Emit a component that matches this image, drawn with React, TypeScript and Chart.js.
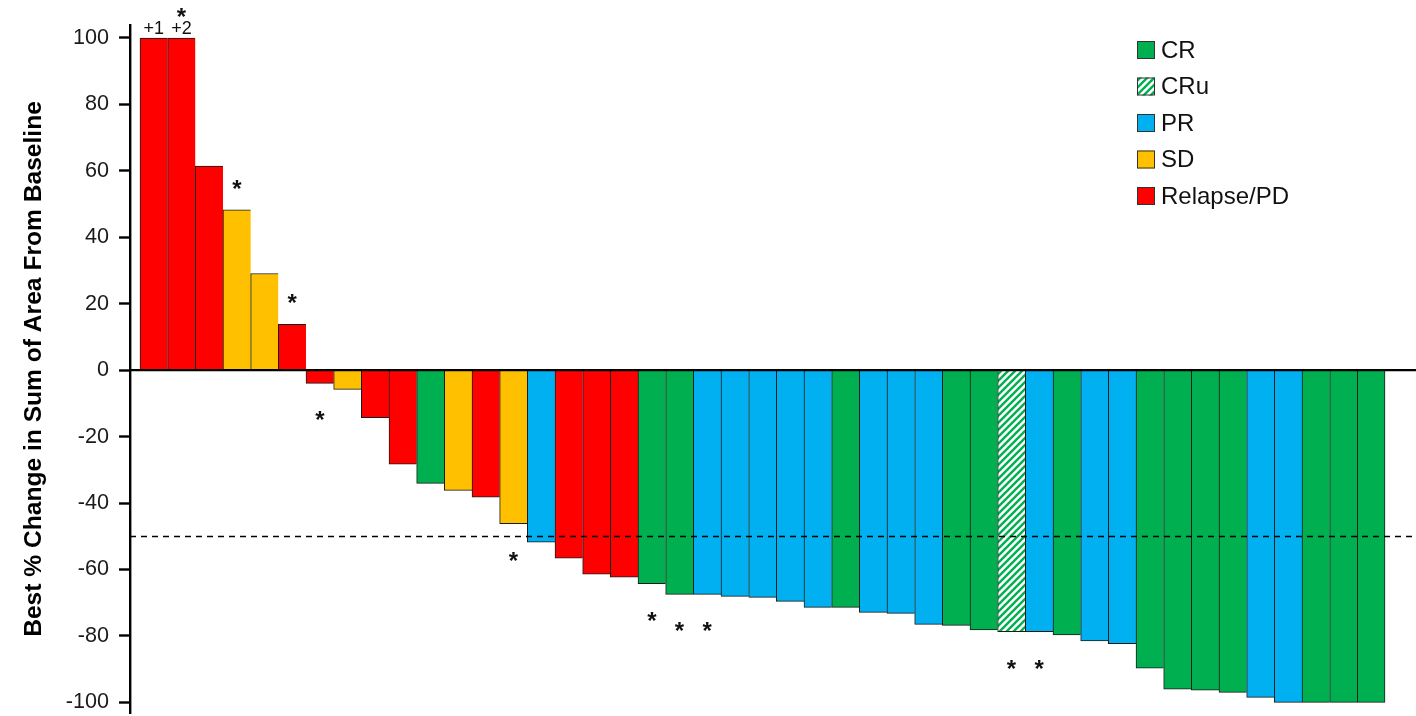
import { useEffect, useRef } from "react";
import { Chart, registerables } from "chart.js";

Chart.register(...registerables);

// ---- data ----
const responses = [
  "PD", "PD", "PD", "SD", "SD", "PD", "PD", "SD", "PD", "PD",
  "CR", "SD", "PD", "SD", "PR", "PD", "PD", "PD", "CR", "CR",
  "PR", "PR", "PR", "PR", "PR", "CR", "PR", "PR", "PR", "CR",
  "CR", "CRu", "PR", "CR", "PR", "PR", "CR", "CR", "CR", "CR",
  "PR", "PR", "CR", "CR", "CR",
];
const changes = [
  100, 100, 61.4, 48.3, 29.1, 13.8, -4.0, -5.8, -14.3, -28.3,
  -34.1, -36.2, -38.2, -46.2, -51.8, -56.6, -61.4, -62.3, -64.3, -67.5,
  -67.5, -68.1, -68.4, -69.6, -71.4, -71.4, -72.9, -73.2, -76.5, -76.8,
  -78.2, -78.7, -78.7, -79.7, -81.5, -82.3, -89.7, -96.0, -96.3, -97.0,
  -98.5, -100, -100, -100, -100,
];
const overflowNotes = ["+1", "+2"]; // bars 1 and 2 exceed 100%
const starredBars = [2, 4, 6, 7, 14, 19, 20, 21, 32, 33];
const yTicks = [100, 80, 60, 40, 20, 0, -20, -40, -60, -80, -100];
const threshold = -50;
const legendKeys = ["CR", "CRu", "PR", "SD", "PD"];
const legendLabels = ["CR", "CRu", "PR", "SD", "Relapse/PD"];
const colors: Record<string, string> = {
  CR: "#00B050",
  PR: "#00B0F0",
  SD: "#FFC000",
  PD: "#FF0000",
};
const yTitle = "Best % Change in Sum of Area From Baseline";

const FONT = "'Liberation Sans', Arial, sans-serif";
const W = 1416;
const H = 716;

function makeStripes(): CanvasPattern | string {
  const s = 7;
  const c = document.createElement("canvas");
  c.width = s;
  c.height = s;
  const g = c.getContext("2d");
  if (!g) return "#fff";
  g.fillStyle = "#ffffff";
  g.fillRect(0, 0, s, s);
  g.strokeStyle = colors.CR;
  g.lineWidth = 2.4;
  g.beginPath();
  g.moveTo(-2, s + 2);
  g.lineTo(s + 2, -2);
  g.moveTo(-2, 2);
  g.lineTo(2, -2);
  g.moveTo(s - 2, s + 2);
  g.lineTo(s + 2, s - 2);
  g.stroke();
  return g.createPattern(c, "repeat") || "#fff";
}

export default function App() {
  const ref = useRef<HTMLCanvasElement | null>(null);

  useEffect(() => {
    if (!ref.current) return;
    const stripes = makeStripes();
    const fillFor = (r: string) => (r === "CRu" ? stripes : colors[r]);
    const points = changes.map((v, i) => ({ x: i + 1, y: v }));
    const last = changes.length - 1;

    const overlay = {
      id: "overlay",
      afterDatasetsDraw(chart: any) {
        const { ctx, chartArea, scales } = chart;
        const y = scales.y;
        const w = chart.width;
        ctx.save();
        // dashed threshold line
        ctx.strokeStyle = "#000";
        ctx.lineWidth = 1.6;
        ctx.setLineDash([6, 5]);
        ctx.beginPath();
        const yd = Math.round(y.getPixelForValue(threshold)) + 0.5;
        ctx.moveTo(chartArea.left, yd);
        ctx.lineTo(w, yd);
        ctx.stroke();
        ctx.setLineDash([]);
        // zero line
        ctx.lineWidth = 2.4;
        const y0 = y.getPixelForValue(0);
        ctx.beginPath();
        ctx.moveTo(chartArea.left - 1, y0);
        ctx.lineTo(w, y0);
        ctx.stroke();

        const meta = chart.getDatasetMeta(0);
        // overflow notes
        ctx.fillStyle = "#111";
        ctx.textAlign = "center";
        ctx.textBaseline = "alphabetic";
        ctx.font = `18px ${FONT}`;
        overflowNotes.forEach((t, i) => {
          const el = meta.data[i];
          ctx.fillText(t, el.x, el.y - 4);
        });
        // asterisks
        ctx.font = `bold 24px ${FONT}`;
        starredBars.forEach((b) => {
          const i = b - 1;
          const el = meta.data[i];
          const v = changes[i];
          const cy = v >= 0 ? el.y - 26 : el.y + 32;
          // glyph center sits ~0.55em above the baseline
          ctx.fillText("*", el.x, cy + 13);
        });

        // legend
        const lx = 1137;
        let ly = 41;
        ctx.textAlign = "left";
        ctx.textBaseline = "middle";
        ctx.font = `24px ${FONT}`;
        legendKeys.forEach((k, i) => {
          ctx.fillStyle = fillFor(k) as any;
          ctx.fillRect(lx, ly, 18, 18);
          ctx.strokeStyle = "#333";
          ctx.lineWidth = 1;
          ctx.strokeRect(lx + 0.5, ly + 0.5, 17, 17);
          ctx.fillStyle = "#111";
          ctx.fillText(legendLabels[i], lx + 24, ly + 10);
          ly += 36.5;
        });
        ctx.restore();
      },
    };

    const chart = new Chart(ref.current, {
      type: "bar",
      data: {
        datasets: [
          {
            data: points as any,
            backgroundColor: responses.map(fillFor) as any,
            borderColor: "#1a1a1a",
            borderWidth: (c: any) => ({
              left: 1,
              right: c.dataIndex === last ? 1 : 0,
              top: 1,
              bottom: 1,
            }),
            borderSkipped: "start",
            barPercentage: 1,
            categoryPercentage: 1,
          },
        ],
      },
      plugins: [overlay],
      options: {
        animation: false,
        responsive: false,
        devicePixelRatio: 1,
        layout: { padding: { left: 0, right: 0, top: 25, bottom: 3 } },
        plugins: {
          legend: { display: false },
          tooltip: { enabled: false },
        },
        scales: {
          x: {
            type: "linear",
            display: false,
            offset: false,
            min: 0.139,
            max: 46.62,
          },
          y: {
            min: -103.2,
            max: 103.9,
            afterBuildTicks: (s: any) => {
              s.ticks = yTicks.map((v) => ({ value: v }));
            },
            afterFit: (s: any) => {
              s.width = 130;
              s.paddingTop = 0;
              s.paddingBottom = 0;
            },
            border: { display: true, color: "#000", width: 2.4 },
            grid: {
              drawOnChartArea: false,
              drawTicks: true,
              tickLength: 11,
              tickColor: "#000",
              tickWidth: 2.4,
            },
            ticks: {
              padding: 10,
              color: "#1a1a1a",
              font: { family: FONT, size: 21.6 },
            },
            title: {
              display: true,
              text: yTitle,
              color: "#000",
              font: { family: FONT, size: 24.6, weight: "bold" },
              padding: { top: 19, bottom: 0 },
            },
          },
        },
      } as any,
    });
    return () => chart.destroy();
  }, []);

  return (
    <div
      style={{
        position: "fixed",
        left: 0,
        top: 0,
        width: W,
        height: H,
        background: "#fff",
      }}
    >
      <canvas ref={ref} width={W} height={H} style={{ width: W, height: H, display: "block" }} />
    </div>
  );
}
